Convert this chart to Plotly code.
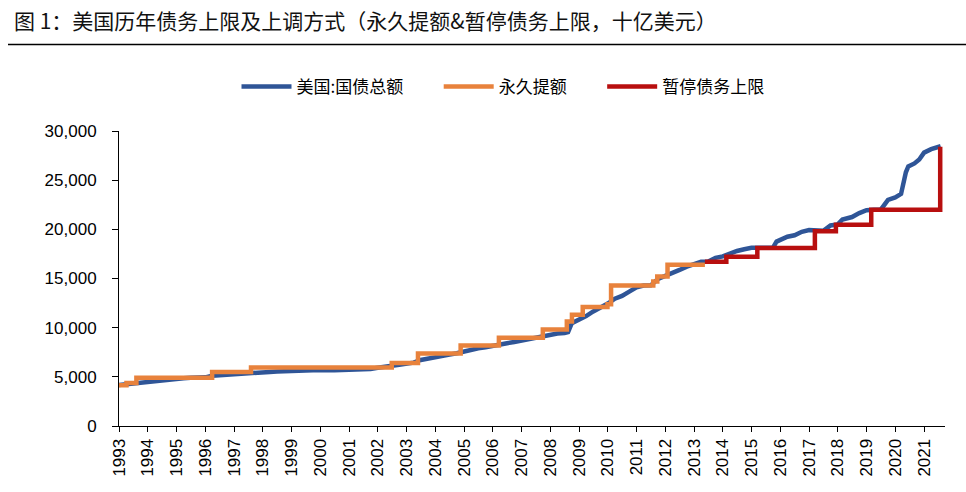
import plotly.graph_objects as go

# 美国:国债总额 (billions USD)
debt_dates = [
    "1993-01-01", "1993-04-01", "1993-07-01", "1993-10-01",
    "1994-01-01", "1994-04-01", "1994-07-01", "1994-10-01",
    "1995-01-01", "1995-04-01", "1995-07-01", "1995-10-01",
    "1996-01-01", "1996-04-01", "1996-07-01", "1996-10-01",
    "1997-01-01", "1997-04-01", "1997-07-01", "1997-10-01",
    "1998-01-01", "1998-04-01", "1998-07-01", "1998-10-01",
    "1999-01-01", "1999-04-01", "1999-07-01", "1999-10-01",
    "2000-01-01", "2000-04-01", "2000-07-01", "2000-10-01",
    "2001-01-01", "2001-04-01", "2001-07-01", "2001-10-01",
    "2002-01-01", "2002-04-01", "2002-07-01", "2002-10-01",
    "2003-01-01", "2003-04-01", "2003-07-01", "2003-10-01",
    "2004-01-01", "2004-04-01", "2004-07-01", "2004-10-01",
    "2005-01-01", "2005-04-01", "2005-07-01", "2005-10-01",
    "2006-01-01", "2006-04-01", "2006-07-01", "2006-10-01",
    "2007-01-01", "2007-04-01", "2007-07-01", "2007-10-01",
    "2008-01-01", "2008-04-01", "2008-07-01", "2008-08-15", "2008-10-01",
    "2009-01-01", "2009-04-01", "2009-07-01", "2009-10-01",
    "2010-01-01", "2010-04-01", "2010-07-01", "2010-10-01",
    "2011-01-01", "2011-04-01", "2011-07-01", "2011-10-01",
    "2012-01-01", "2012-04-01", "2012-07-01", "2012-10-01",
    "2013-01-01", "2013-04-01", "2013-07-01", "2013-10-01",
    "2014-01-01", "2014-04-01", "2014-07-01", "2014-10-01",
    "2015-01-01", "2015-04-01", "2015-07-01", "2015-10-01", "2015-11-15",
    "2016-01-01", "2016-04-01", "2016-07-01", "2016-10-01",
    "2017-01-01", "2017-04-01", "2017-07-01", "2017-10-01",
    "2018-01-01", "2018-03-01", "2018-07-01", "2018-10-01",
    "2019-01-01", "2019-04-01", "2019-07-01", "2019-10-01",
    "2020-01-01", "2020-03-15", "2020-04-15", "2020-05-15", "2020-06-15",
    "2020-09-01", "2020-11-01", "2021-01-01", "2021-04-01", "2021-07-01",
    "2021-07-31",
]
debt_values = [
    4170, 4250, 4370, 4410,
    4500, 4600, 4640, 4700,
    4760, 4860, 4900, 4930,
    4950, 5100, 5160, 5240,
    5300, 5340, 5390, 5420,
    5480, 5500, 5530, 5530,
    5600, 5590, 5640, 5680,
    5720, 5690, 5660, 5680,
    5720, 5680, 5740, 5800,
    5920, 5970, 6130, 6230,
    6380, 6440, 6720, 6830,
    6980, 7100, 7260, 7400,
    7600, 7760, 7910, 8010,
    8180, 8350, 8420, 8540,
    8690, 8840, 8930, 9060,
    9220, 9400, 9460, 9550, 10450,
    10800, 11180, 11650, 12030,
    12450, 12950, 13230, 13660,
    14100, 14280, 14300, 14950,
    15300, 15650, 15870, 16200,
    16400, 16700, 16720, 17100,
    17250, 17580, 17800, 17980,
    18120, 18130, 18130, 18140, 18750,
    18950, 19250, 19400, 19750,
    19930, 19850, 19850, 20400,
    20500, 21000, 21250, 21650,
    21950, 22000, 22000, 23000,
    23250, 23600, 24900, 25800, 26400,
    26700, 27100, 27800, 28150, 28450,
    28450,
]

# 永久提额 (permanent debt limit increases)
perm_dates = [
    "1993-01-01", "1993-04-06", "1993-08-10", "1996-03-29", "1997-08-05",
    "2002-06-28", "2003-05-27", "2004-11-19", "2006-03-20", "2007-09-29",
    "2008-07-30", "2008-10-03", "2009-02-17", "2009-12-28", "2010-02-12",
    "2011-08-02", "2011-09-22", "2012-01-30", "2013-05-19",
]
perm_values = [
    4145, 4370, 4900, 5500, 5950,
    6400, 7384, 8184, 8965, 9815,
    10615, 11315, 12104, 12394, 14294,
    14694, 15194, 16394, 16394,
]

# 暂停债务上限 (limit after suspension periods)
susp_dates = [
    "2013-05-19", "2014-02-15", "2015-03-16", "2017-03-16",
    "2017-12-08", "2019-03-02", "2021-07-24", "2021-07-25",
]
susp_values = [
    16699, 17212, 18113, 19809,
    20456, 21988, 21988, 28401,
]

y_ticks = [0, 5000, 10000, 15000, 20000, 25000, 30000]

NB = "\u00a0"
W, H = 966, 492
ML, MR, MT, MB = 119, 21, 131, 66

fig = go.Figure()
fig.add_trace(go.Scatter(
    x=debt_dates, y=debt_values, mode="lines", name="美国:国债总额" + NB * 8,
    line=dict(color="#2F5597", width=4.5),
))
fig.add_trace(go.Scatter(
    x=perm_dates, y=perm_values, mode="lines", name="永久提额" + NB * 8,
    line=dict(color="#E8823C", width=4.5, shape="hv"),
))
fig.add_trace(go.Scatter(
    x=susp_dates, y=susp_values, mode="lines", name="暂停债务上限",
    line=dict(color="#B80F0F", width=4.5, shape="hv"),
))

plot_h = H - MT - MB
plot_w = W - ML - MR
def py(pix_from_top):
    return (H - MB - pix_from_top) / plot_h
def px(pix_from_left):
    return (pix_from_left - ML) / plot_w

fig.update_layout(
    width=W, height=H,
    paper_bgcolor="white", plot_bgcolor="white",
    margin=dict(l=ML, r=MR, t=MT, b=MB, autoexpand=False),
    font=dict(family="Liberation Sans, Arial, sans-serif", color="#000000"),
    showlegend=True,
    legend=dict(
        orientation="h", x=px(503), xanchor="center", y=py(87), yanchor="middle",
        font=dict(family="Noto Sans CJK SC", size=17, color="#000000"),
        itemwidth=50,
    ),
    annotations=[
        dict(
            text="图 1：美国历年债务上限及上调方式（永久提额&暂停债务上限，十亿美元）",
            xref="paper", yref="paper", x=px(12), y=py(20), xanchor="left", yanchor="middle",
            showarrow=False,
            font=dict(family="Noto Sans CJK SC", size=21, color="#111111"),
        )
    ],
    shapes=[
        dict(type="line", xref="paper", yref="paper",
             x0=px(8), x1=px(966), y0=py(44.5), y1=py(44.5),
             line=dict(color="black", width=1.3)),
    ],
)

fig.update_xaxes(
    type="date",
    range=["1993-01-01", "2021-09-24"],
    tick0="1993-01-01", dtick="M12", tickformat="%Y",
    tickangle=-90,
    ticks="outside", ticklen=5, tickcolor="black",
    showline=True, linecolor="black", linewidth=1,
    showgrid=False, zeroline=False,
    tickfont=dict(family="Liberation Sans, Arial", size=17, color="#000000"),
)
fig.update_yaxes(
    range=[0, 30000],
    tickvals=y_ticks, tickformat=",d",
    ticks="outside", ticklen=6, tickcolor="black",
    showline=True, linecolor="black", linewidth=1,
    showgrid=False, zeroline=False,
    ticklabelstandoff=12,
    tickfont=dict(family="Liberation Sans, Arial", size=17, color="#000000"),
)

fig.write_html(
    "out.html",
    config={"displayModeBar": False},
    post_script="document.body.style.margin='0px';",
)
